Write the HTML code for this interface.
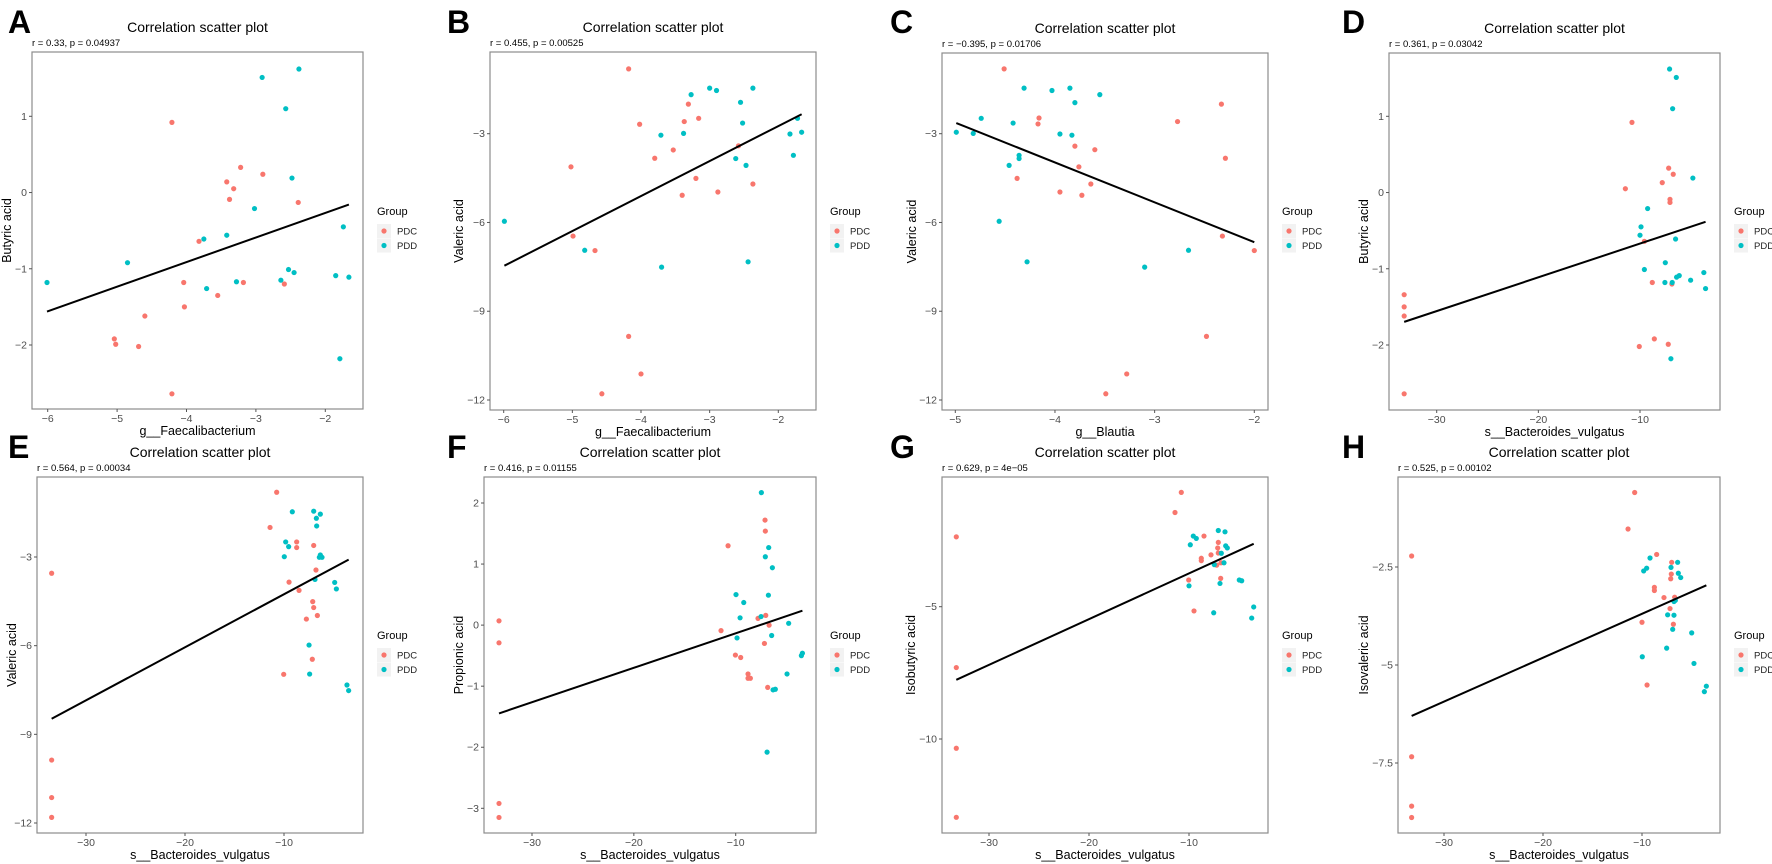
<!DOCTYPE html>
<html><head><meta charset="utf-8"><style>
html,body{margin:0;padding:0;background:#fff;}
svg{display:block;font-family:"Liberation Sans",Arial,sans-serif;}
</style></head><body>
<svg id="fig" width="1772" height="864" viewBox="0 0 1772 864" xmlns="http://www.w3.org/2000/svg"></svg>
<script>
// ---- Data ----
const aPdcX=[-4.21,-3.22,-2.90,-3.42,-3.32,-3.38,-2.39,-3.82,-4.04,-3.18,-2.59,-3.55,-4.03,-4.60,-5.04,-5.02,-4.69,-4.21];
const aPdcY=[0.92,0.33,0.24,0.14,0.05,-0.09,-0.13,-0.64,-1.18,-1.18,-1.20,-1.35,-1.50,-1.62,-1.92,-1.99,-2.02,-2.64];
const aPddX=[-2.38,-2.91,-2.57,-2.48,-3.02,-1.74,-3.75,-3.42,-4.85,-2.53,-2.45,-1.85,-1.66,-2.64,-3.28,-3.71,-6.01,-1.79];
const aPddY=[1.62,1.51,1.10,0.19,-0.21,-0.45,-0.61,-0.56,-0.92,-1.01,-1.05,-1.09,-1.11,-1.15,-1.17,-1.26,-1.18,-2.18];

const bPdcX=[-4.18,-3.31,-3.37,-3.16,-4.02,-3.53,-3.80,-2.58,-5.02,-3.20,-2.37,-2.88,-3.40,-4.99,-4.67,-4.18,-4.00,-4.57];
const bPdcY=[-0.81,-2.00,-2.59,-2.48,-2.68,-3.55,-3.83,-3.41,-4.12,-4.51,-4.70,-4.97,-5.08,-6.46,-6.95,-9.85,-11.12,-11.79];
const bPddX=[-3.00,-2.90,-2.37,-3.27,-2.55,-2.52,-1.72,-3.71,-3.38,-1.83,-1.66,-1.78,-2.62,-2.47,-5.99,-4.82,-3.70,-2.44];
const bPddY=[-1.46,-1.54,-1.46,-1.68,-1.94,-2.64,-2.48,-3.05,-2.99,-3.01,-2.95,-3.73,-3.84,-4.07,-5.96,-6.94,-7.51,-7.33];

const cPdcX=[-4.51,-2.33,-2.77,-4.16,-4.17,-3.80,-3.60,-2.29,-3.76,-4.38,-3.64,-3.95,-3.73,-2.32,-2.00,-2.48,-3.28,-3.49];
const cPdcY=[-0.81,-2.00,-2.59,-2.47,-2.67,-3.42,-3.54,-3.83,-4.12,-4.51,-4.70,-4.97,-5.08,-6.46,-6.95,-9.85,-11.12,-11.79];
const cPddX=[-4.31,-4.03,-3.85,-3.55,-3.80,-4.74,-4.42,-4.99,-4.82,-3.95,-3.83,-4.36,-4.36,-4.46,-4.56,-4.28,-2.66,-3.10];
const cPddY=[-1.46,-1.54,-1.46,-1.68,-1.95,-2.48,-2.64,-2.95,-2.99,-3.01,-3.05,-3.73,-3.84,-4.07,-5.96,-7.33,-6.94,-7.51];

const dPdcX=[-33.2,-33.2,-33.2,-33.2,-10.79,-11.44,-7.18,-6.73,-7.81,-7.05,-7.05,-9.57,-8.79,-6.86,-10.07,-8.59,-7.22];
const dPdcY=[-2.64,-1.34,-1.50,-1.62,0.92,0.05,0.32,0.24,0.13,-0.09,-0.13,-0.64,-1.18,-1.20,-2.02,-1.92,-1.99];
const dPddX=[-7.09,-6.43,-6.79,-4.80,-9.25,-9.90,-10.00,-6.50,-7.51,-9.57,-3.72,-6.14,-6.40,-5.02,-7.55,-6.83,-3.55,-6.96];
const dPddY=[1.62,1.51,1.10,0.19,-0.21,-0.45,-0.56,-0.61,-0.92,-1.01,-1.05,-1.09,-1.11,-1.15,-1.18,-1.18,-1.26,-2.18];

const ePdcX=[-33.47,-33.47,-33.47,-33.47,-10.74,-11.41,-8.72,-8.72,-7.00,-6.77,-9.49,-8.48,-7.10,-7.00,-6.63,-7.74,-7.14,-10.03];
const ePdcY=[-3.55,-9.87,-11.14,-11.81,-0.81,-2.00,-2.49,-2.68,-2.61,-3.44,-3.85,-4.13,-4.51,-4.71,-4.98,-5.10,-6.46,-6.97];
const ePddX=[-9.16,-7.00,-6.33,-6.73,-6.70,-9.83,-9.53,-9.97,-6.43,-6.16,-6.33,-6.87,-4.88,-4.71,-7.47,-7.41,-3.64,-3.47];
const ePddY=[-1.47,-1.45,-1.55,-1.69,-1.95,-2.49,-2.65,-2.99,-3.01,-3.01,-2.93,-3.76,-3.86,-4.08,-5.98,-6.96,-7.33,-7.52];

const fPdcX=[-33.24,-33.24,-33.24,-33.24,-10.75,-7.12,-7.09,-7.05,-7.81,-6.72,-11.44,-7.18,-10.03,-9.51,-8.79,-8.79,-8.56,-6.86];
const fPdcY=[0.07,-0.29,-2.92,-3.15,1.30,1.72,1.54,0.16,0.11,0.00,-0.09,-0.30,-0.49,-0.53,-0.80,-0.87,-0.87,-1.02];
const fPddX=[-7.48,-6.76,-7.09,-6.40,-9.97,-6.79,-9.21,-9.57,-7.51,-4.80,-9.87,-6.47,-3.45,-3.55,-4.96,-6.33,-6.11,-6.92];
const fPddY=[2.17,1.27,1.12,0.94,0.50,0.49,0.37,0.12,0.14,0.03,-0.21,-0.17,-0.46,-0.50,-0.80,-1.06,-1.05,-2.08];

const gPdcX=[-33.27,-33.27,-33.27,-33.27,-10.77,-11.40,-8.50,-7.07,-7.13,-7.07,-7.80,-8.77,-8.77,-7.23,-6.83,-10.03,-9.50,-6.80];
const gPdcY=[-2.36,-7.30,-10.35,-12.96,-0.68,-1.44,-2.33,-2.57,-2.78,-2.97,-3.04,-3.17,-3.26,-3.43,-3.93,-3.99,-5.16,-3.34];
const gPddX=[-7.07,-6.40,-9.57,-9.27,-9.87,-6.33,-6.17,-6.77,-6.50,-7.47,-6.90,-4.97,-4.73,-10.00,-7.53,-3.53,-3.73];
const gPddY=[-2.12,-2.17,-2.33,-2.42,-2.66,-2.70,-2.78,-2.98,-3.34,-3.41,-4.12,-3.99,-4.02,-4.21,-5.23,-5.01,-5.43];

const hPdcX=[-33.27,-33.27,-33.27,-33.27,-10.74,-11.41,-8.52,-7.00,-7.04,-7.10,-8.75,-8.75,-7.78,-6.70,-7.17,-10.00,-6.83,-9.49];
const hPdcY=[-2.22,-7.34,-8.60,-8.89,-0.60,-1.53,-2.18,-2.38,-2.68,-2.80,-3.02,-3.10,-3.28,-3.27,-3.56,-3.91,-3.96,-5.51];
const hPddX=[-9.19,-6.40,-7.07,-9.53,-9.83,-6.33,-6.09,-6.63,-6.77,-7.41,-6.77,-6.90,-4.98,-7.51,-9.97,-4.75,-3.50,-3.70];
const hPddY=[-2.27,-2.38,-2.51,-2.53,-2.60,-2.66,-2.77,-3.35,-3.38,-3.72,-3.73,-4.09,-4.18,-4.57,-4.79,-4.96,-5.54,-5.68];

const panelLetters=["A","B","C","D","E","F","G","H"];
const statLabels=["r = 0.33, p = 0.04937","r = 0.455, p = 0.00525","r = \u22120.395, p = 0.01706","r = 0.361, p = 0.03042","r = 0.564, p = 0.00034","r = 0.416, p = 0.01155","r = 0.629, p = 4e\u221205","r = 0.525, p = 0.00102"];
const xTitles=["g__Faecalibacterium","g__Faecalibacterium","g__Blautia","s__Bacteroides_vulgatus","s__Bacteroides_vulgatus","s__Bacteroides_vulgatus","s__Bacteroides_vulgatus","s__Bacteroides_vulgatus"];
const yTitles=["Butyric acid","Valeric acid","Valeric acid","Butyric acid","Valeric acid","Propionic acid","Isobutyric acid","Isovaleric acid"];
const xTicksA=[-6,-5,-4,-3,-2], xTicksC=[-5,-4,-3,-2], xTicksS=[-30,-20,-10];
const yTicksBut=[-2,-1,0,1], yTicksVal=[-12,-9,-6,-3], yTicksProp=[-3,-2,-1,0,1,2], yTicksIso=[-10,-5], yTicksIsoval=[-7.5,-5.0,-2.5];

// ---- Layout (pixel geometry) ----
const panels=[
 {L:32,R:363,T:52,B:409,xc:[-6,47.7,-2,325.3],yc:[1,116.3,-2,345],yt:7,xt:xTicksA,ytk:yTicksBut,px:aPdcX,py:aPdcY,dx:aPddX,dy:aPddY},
 {L:490,R:816,T:52,B:410,xc:[-6,503.7,-2,778.3],yc:[-3,133.7,-12,400],yt:459,xt:xTicksA,ytk:yTicksVal,px:bPdcX,py:bPdcY,dx:bPddX,dy:bPddY},
 {L:942,R:1268,T:53,B:410,xc:[-5,955.3,-2,1254.3],yc:[-3,133.7,-12,400],yt:912,xt:xTicksC,ytk:yTicksVal,px:cPdcX,py:cPdcY,dx:cPddX,dy:cPddY},
 {L:1389,R:1720,T:53,B:410,xc:[-30,1436.7,-10,1640],yc:[1,116.3,-2,345],yt:1364,xt:xTicksS,ytk:yTicksBut,px:dPdcX,py:dPdcY,dx:dPddX,dy:dPddY},
 {L:37,R:363,T:477,B:833,xc:[-30,86,-10,284],yc:[-3,557,-12,823],yt:12,xt:xTicksS,ytk:yTicksVal,px:ePdcX,py:ePdcY,dx:ePddX,dy:ePddY},
 {L:484,R:816,T:477,B:833,xc:[-30,532,-10,735.7],yc:[2,503,-3,808.3],yt:459,xt:xTicksS,ytk:yTicksProp,px:fPdcX,py:fPdcY,dx:fPddX,dy:fPddY},
 {L:942,R:1268,T:477,B:833,xc:[-30,989,-10,1189],yc:[-5,606.7,-10,739],yt:911,xt:xTicksS,ytk:yTicksIso,px:gPdcX,py:gPdcY,dx:gPddX,dy:gPddY},
 {L:1398,R:1720,T:477,B:833,xc:[-30,1444,-10,1642],yc:[-2.5,567,-7.5,763],yt:1364,xt:xTicksS,ytk:yTicksIsoval,px:hPdcX,py:hPdcY,dx:hPddX,dy:hPddY}
];
const letterX=[8,447,890,1342,8,447,890,1342];

const NS="http://www.w3.org/2000/svg";
const svg=document.getElementById('fig');
function mk(tag,attrs,parent,text){const e=document.createElementNS(NS,tag);for(const k in attrs)e.setAttribute(k,attrs[k]);if(text!==undefined)e.textContent=text;(parent||svg).appendChild(e);return e;}
function fmt(v){const s=(Number.isInteger(v)?String(v):v.toFixed(1));return s.replace('-','\u2212');}

panels.forEach((p,i)=>{
  const sx=v=>p.xc[1]+(v-p.xc[0])*(p.xc[3]-p.xc[1])/(p.xc[2]-p.xc[0]);
  const sy=v=>p.yc[1]+(v-p.yc[0])*(p.yc[3]-p.yc[1])/(p.yc[2]-p.yc[0]);
  const g=mk('g',{});
  
  
  const cx=(p.L+p.R)/2;
  const top=p.T<300?0:425;
  const lt=mk('text',{x:letterX[i],y:top+33,'font-size':32,'font-weight':'bold',fill:'#000'},g,panelLetters[i]);
  
  
  const tt=mk('text',{x:cx,y:p.T-20,'font-size':14,'text-anchor':'middle',fill:'#000'},g,'Correlation scatter plot');
  
  
  const st=mk('text',{x:p.L,y:p.T-6,'font-size':9.5,fill:'#000'},g,statLabels[i]);
  
  
  const box=mk('rect',{x:p.L,y:p.T,width:p.R-p.L,height:p.B-p.T,fill:'#fff',stroke:'#8c8c8c','stroke-width':1.2},g);
  
  
  p.xt.forEach(v=>{
    const x=sx(v);
    mk('line',{x1:x,x2:x,y1:p.B,y2:p.B+3,stroke:'#555','stroke-width':1},g);
    const t=mk('text',{x:x,y:p.B+13,'font-size':10.5,'text-anchor':'middle',fill:'#4d4d4d'},g,fmt(v));
    
    
  });
  p.ytk.forEach(v=>{
    const y=sy(v);
    mk('line',{x1:p.L-3,x2:p.L,y1:y,y2:y,stroke:'#555','stroke-width':1},g);
    const t=mk('text',{x:p.L-5,y:y+3.5,'font-size':10.5,'text-anchor':'end',fill:'#4d4d4d'},g,fmt(v));
    
    
  });
  const xtl=mk('text',{x:cx,y:p.B+26,'font-size':12.5,'text-anchor':'middle',fill:'#000'},g,xTitles[i]);
  
  
  const ym=(p.T+p.B)/2;
  const ytl=mk('text',{x:p.yt+4,y:ym,'font-size':12.5,'text-anchor':'middle',fill:'#000',transform:`rotate(-90 ${p.yt+4} ${ym})`},g,yTitles[i]);
  
  
  // points
  const drawPts=(xs,ys,col,nm)=>xs.forEach((x,k)=>{
    const c=mk('circle',{cx:sx(x),cy:sy(ys[k]),r:2.6,fill:col},g);
    
    
  });
  drawPts(p.px,p.py,'#F8766D','point-pdc');
  drawPts(p.dx,p.dy,'#00BFC4','point-pdd');
  // regression line (OLS on all points)
  const X=p.px.concat(p.dx), Y=p.py.concat(p.dy), n=X.length;
  const mx=X.reduce((a,b)=>a+b,0)/n, my=Y.reduce((a,b)=>a+b,0)/n;
  let sxy=0,sxx=0;X.forEach((x,k)=>{sxy+=(x-mx)*(Y[k]-my);sxx+=(x-mx)*(x-mx);});
  const b=sxy/sxx,a=my-b*mx;
  const x0=Math.min(...X),x1=Math.max(...X);
  const ln=mk('line',{x1:sx(x0),y1:sy(a+b*x0),x2:sx(x1),y2:sy(a+b*x1),stroke:'#000','stroke-width':2},g);
  
  
  // legend
  const lx=p.R+14, ly=top+(top?214:215);
  const lg=mk('g',{},g);
  
  
  mk('text',{x:lx,y:ly,'font-size':11,fill:'#000'},lg,'Group');
  [['PDC','#F8766D'],['PDD','#00BFC4']].forEach((e,k)=>{
    const yy=ly+16+k*14.5;
    mk('rect',{x:lx,y:yy-7,width:14,height:14,fill:'#f2f2f2'},lg);
    mk('circle',{cx:lx+7,cy:yy,r:2.6,fill:e[1]},lg);
    const t=mk('text',{x:lx+20,y:yy+3.5,'font-size':9.5,fill:'#222'},lg,e[0]);
    
    
  });
});
</script>
</body></html>
